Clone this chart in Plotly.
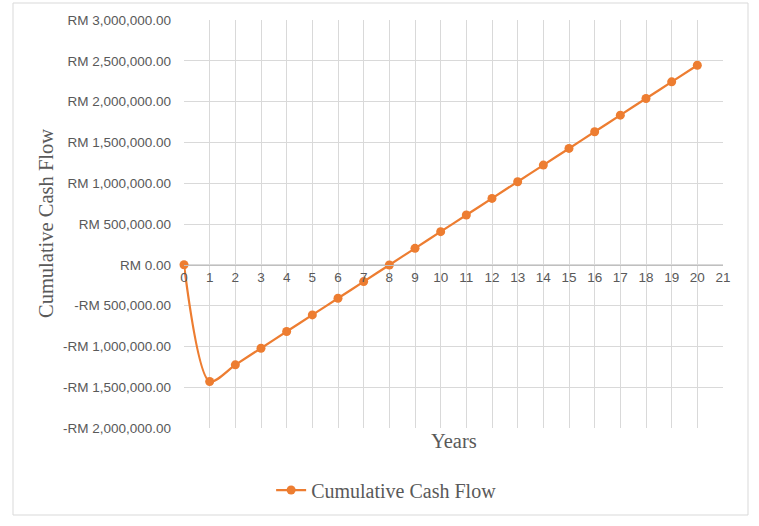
import plotly.graph_objects as go

years = list(range(0, 21))
cumulative_cash_flow = [0, -1430000, -1226000, -1022000, -818000, -614000, -410000,
                        -206000, -2000, 202000, 406000, 610000, 814000, 1018000,
                        1222000, 1426000, 1630000, 1834000, 2038000, 2242000, 2446000]
x_ticks = list(range(0, 22))
y_tick_vals = [-2000000, -1500000, -1000000, -500000, 0, 500000, 1000000,
               1500000, 2000000, 2500000, 3000000]
y_tick_text = ["-RM 2,000,000.00", "-RM 1,500,000.00", "-RM 1,000,000.00",
               "-RM 500,000.00", "RM 0.00", "RM 500,000.00", "RM 1,000,000.00",
               "RM 1,500,000.00", "RM 2,000,000.00", "RM 2,500,000.00",
               "RM 3,000,000.00"]

ORANGE = "#ED7D31"
GRID = "#D9D9D9"
TXT = "#595959"
y_min, y_max = -2000000, 3000000

fig = go.Figure()
fig.add_trace(go.Scatter(
    x=years, y=cumulative_cash_flow, mode="lines+markers",
    name="Cumulative Cash Flow", cliponaxis=False,
    line=dict(color=ORANGE, width=2.25, shape="spline", smoothing=0.8),
    marker=dict(color=ORANGE, size=9),
))

fig.update_layout(
    width=759, height=526,
    margin=dict(l=184, r=36, t=20, b=98),
    paper_bgcolor="white", plot_bgcolor="white",
    showlegend=True,
    legend=dict(orientation="h", x=0.375, y=-0.152, xanchor="center", yanchor="middle",
                font=dict(family="Liberation Serif", size=20, color=TXT)),
    xaxis=dict(range=[0, 21], tickvals=x_ticks, ticktext=[str(v) for v in x_ticks],
               showgrid=True, gridcolor=GRID, gridwidth=1,
               anchor="free", position=(0 - y_min) / (y_max - y_min),
               showline=True, linecolor="#BFBFBF", linewidth=1,
               zeroline=False, ticks="",
               tickfont=dict(family="Liberation Sans", size=13.5, color=TXT)),
    yaxis=dict(range=[y_min, y_max], tickvals=y_tick_vals, ticktext=y_tick_text,
               showgrid=True, gridcolor=GRID, gridwidth=1, zeroline=False,
               ticks="", ticklabelstandoff=12,
               tickfont=dict(family="Liberation Sans", size=13.5, color=TXT)),
    annotations=[
        dict(text="Years", xref="paper", yref="paper", x=(454 - 184) / 539,
             y=(428 - 441) / 408, showarrow=False, xanchor="center", yanchor="middle",
             font=dict(family="Liberation Serif", size=20.5, color=TXT)),
        dict(text="Cumulative Cash Flow", xref="paper", yref="paper",
             x=(46 - 184) / 539, y=0.5, textangle=-90, showarrow=False,
             xanchor="center", yanchor="middle",
             font=dict(family="Liberation Serif", size=20.5, color=TXT)),
    ],
    shapes=[dict(type="rect", xref="paper", yref="paper",
                 x0=(13 - 184) / 539, x1=(748 - 184) / 539,
                 y0=(428 - 515) / 408, y1=(428 - 3) / 408,
                 line=dict(color="#D9D9D9", width=1), fillcolor="rgba(0,0,0,0)",
                 layer="below")],
)

fig.write_html("out.html", config={"displayModeBar": False},
               post_script="document.body.style.margin='0';")
